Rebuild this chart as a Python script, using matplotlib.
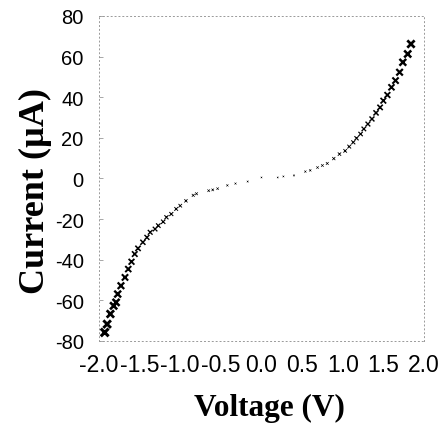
import numpy as np
import matplotlib
matplotlib.use("Agg")
import matplotlib.pyplot as plt

# --- dados (V, uA) ---
tensao = [-1.93, -1.90, -1.86, -1.82, -1.79, -1.77, -1.73, -1.68, -1.64, -1.60,
          -1.56, -1.52, -1.46, -1.41, -1.37, -1.31, -1.27, -1.21, -1.17, -1.11,
          -1.05, -1.00, -0.93, -0.84, -0.80, -0.65, -0.60, -0.54, -0.42, -0.32,
          -0.17, 0.00, 0.20, 0.27, 0.40, 0.54, 0.60, 0.69, 0.75, 0.81,
          0.89, 0.96, 1.03, 1.08, 1.13, 1.17, 1.22, 1.26, 1.31, 1.36,
          1.41, 1.46, 1.50, 1.55, 1.60, 1.65, 1.70, 1.74, 1.80, 1.84]
corrente = [-75.8, -71.7, -66.7, -62.7, -61.0, -56.9, -52.8, -48.7, -44.6, -41.0,
            -37.2, -34.4, -31.4, -29.0, -26.5, -24.9, -23.2, -21.3, -19.1, -17.5,
            -15.0, -13.4, -11.0, -8.3, -7.5, -6.0, -5.6, -5.0, -3.4, -2.5,
            -1.5, 0.5, 0.5, 1.0, 1.5, 3.4, 4.0, 5.4, 6.4, 7.4,
            9.8, 12.0, 13.6, 15.7, 17.8, 19.8, 21.9, 24.4, 26.8, 29.3,
            32.3, 35.0, 38.3, 41.1, 44.9, 48.2, 52.3, 57.2, 61.3, 66.2]
xticks = [-2.0, -1.5, -1.0, -0.5, 0.0, 0.5, 1.0, 1.5, 2.0]
yticks = [-80, -60, -40, -20, 0, 20, 40, 60, 80]

fig = plt.figure(figsize=(4.43, 4.39), dpi=100)
ax = fig.add_axes([0.2235, 0.221, 0.7335, 0.7403])

v = np.array(tensao)
i = np.array(corrente)
# marcadores mais fortes onde a corrente e maior (como no original escaneado)
tam = 1.0 + 0.40 * np.abs(i)
esp = 0.3 + 0.025 * np.abs(i)
ax.scatter(v, i, s=tam, marker='x', c='black', linewidths=esp, zorder=3)

ax.set_xlim(-2.0, 2.0)
ax.set_ylim(-80, 80)
ax.set_xticks(xticks)
ax.set_yticks(yticks)
ax.set_xticklabels([f'{t:.1f}' for t in xticks], family='Liberation Sans', fontsize=16.5)
ax.set_yticklabels([f'{t:d}' for t in yticks], family='Liberation Sans', fontsize=14.5)
ax.tick_params(axis='x', length=0, pad=9)
ax.tick_params(axis='y', direction='in', length=3, width=0.6, color='0.6', pad=11)

for lado in ax.spines.values():
    lado.set_linestyle((0, (1, 3)))
    lado.set_color('0.6')
    lado.set_linewidth(0.7)

ax.set_xlabel('Voltage (V)', family='Liberation Serif', fontweight='bold', fontsize=22.5)
ax.set_ylabel('Current (\u00b5A)', family='Liberation Serif', fontweight='bold', fontsize=26)
ax.xaxis.set_label_coords(0.523, -0.16)
ax.yaxis.set_label_coords(-0.145, 0.465)

plt.savefig('out.png', dpi=100)
